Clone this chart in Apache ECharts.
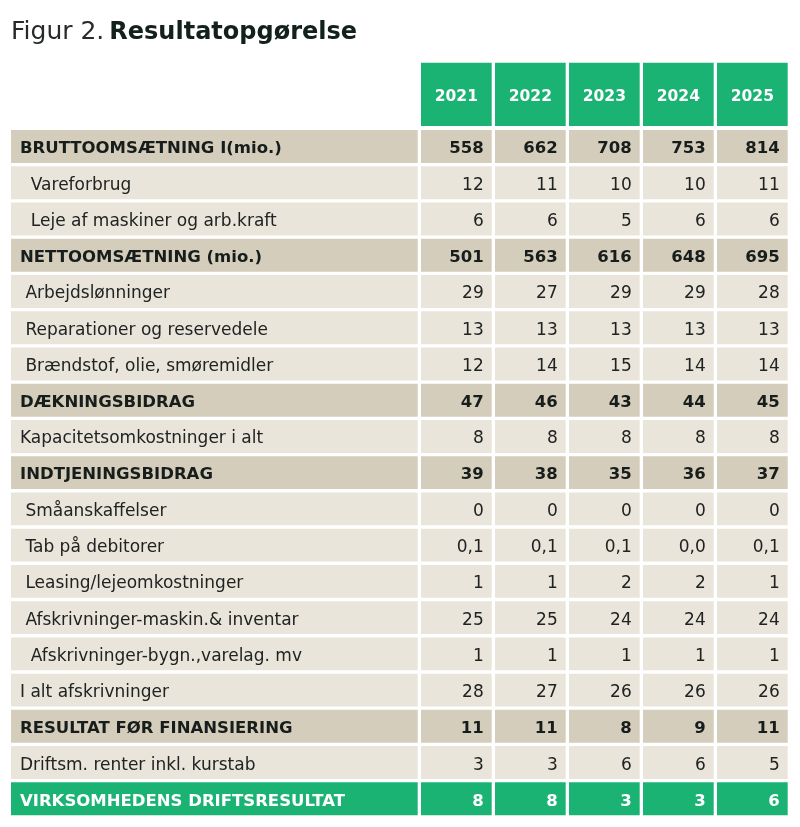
<!DOCTYPE html>
<html>
<head>
<meta charset="utf-8">
<script src="https://cdn.jsdelivr.net/npm/echarts@6/dist/echarts.min.js"></script>
<style>
html, body { margin: 0; padding: 0; background: #fff; }
#main { width: 800px; height: 827px; }
</style>
</head>
<body>
<div id="main"></div>
<script>
// tabellens data
var years = ['2021', '2022', '2023', '2024', '2025'];

var rowLabels = [
    'BRUTTOOMSÆTNING I(mio.)',
    '  Vareforbrug',
    '  Leje af maskiner og arb.kraft',
    'NETTOOMSÆTNING (mio.)',
    ' Arbejdslønninger',
    ' Reparationer og reservedele',
    ' Brændstof, olie, smøremidler',
    'DÆKNINGSBIDRAG',
    'Kapacitetsomkostninger i alt',
    'INDTJENINGSBIDRAG',
    ' Småanskaffelser',
    ' Tab på debitorer',
    ' Leasing/lejeomkostninger',
    ' Afskrivninger-maskin.& inventar',
    '  Afskrivninger-bygn.,varelag. mv',
    'I alt afskrivninger',
    'RESULTAT FØR FINANSIERING',
    'Driftsm. renter inkl. kurstab',
    'VIRKSOMHEDENS DRIFTSRESULTAT'
];

// total = mørk række med fed tekst, item = almindelig, result = grøn slutlinje
var rowKinds = ['total', 'item', 'item', 'total', 'item', 'item', 'item', 'total', 'item', 'total',
    'item', 'item', 'item', 'item', 'item', 'item', 'total', 'item', 'result'];

var v2021 = [558, 12, 6, 501, 29, 13, 12, 47, 8, 39, 0, 0.1, 1, 25, 1, 28, 11, 3, 8];
var v2022 = [662, 11, 6, 563, 27, 13, 14, 46, 8, 38, 0, 0.1, 1, 25, 1, 27, 11, 3, 8];
var v2023 = [708, 10, 5, 616, 29, 13, 15, 43, 8, 35, 0, 0.1, 2, 24, 1, 26, 8, 6, 3];
var v2024 = [753, 10, 6, 648, 29, 13, 14, 44, 8, 36, 0, 0.0, 2, 24, 1, 26, 9, 6, 3];
var v2025 = [814, 11, 6, 695, 28, 13, 14, 45, 8, 37, 0, 0.1, 1, 24, 1, 26, 11, 5, 6];

// rækker der vises med én decimal
var oneDecimalRows = [' Tab på debitorer'];

var valuesByYear = [v2021, v2022, v2023, v2024, v2025];

var FONT = '"DejaVu Sans", sans-serif';
var GAP = 3.3;
var SHIFT = 2.5; // teksten sidder lidt under midten
var GREEN = '#1bb374';
var bg = { total: '#d5cdbc', item: '#e9e5da', result: GREEN };
var fg = { total: '#161d1a', item: '#202322', result: '#ffffff' };
var weight = { total: 'bold', item: 'normal', result: 'bold' };
var size = { total: 16.5, item: 17, result: 16.5 };

function fmt(v, row) {
    if (oneDecimalRows.indexOf(rowLabels[row]) >= 0) {
        return v.toFixed(1).replace('.', ',');
    }
    return String(v).replace('.', ',');
}

var cellData = [];
valuesByYear.forEach(function (arr, i) {
    arr.forEach(function (v, r) {
        cellData.push([i, r, v]);
    });
});

var labelData = rowLabels.map(function (l, r) { return [0, r]; });
var headerData = years.map(function (y, i) { return [i, 0]; });

var myChart = echarts.init(document.getElementById('main'));

var option = {
    animation: false,
    title: {
        left: 6,
        top: 15,
        text: '{a|Figur 2.} {b|Resultatopgørelse}',
        textStyle: {
            rich: {
                a: { fontFamily: FONT, fontSize: 25, fontWeight: 'normal', color: '#262a28' },
                b: { fontFamily: FONT, fontSize: 24, fontWeight: 'bold', color: '#13201b' }
            }
        }
    },
    grid: [
        { left: 11, top: 130, width: 410, height: 688.6 },
        { left: 421, top: 130, width: 370, height: 688.6 },
        { left: 421, top: 62.7, width: 370, height: 67.3 }
    ],
    xAxis: [
        { gridIndex: 0, type: 'category', data: [''], show: false },
        { gridIndex: 1, type: 'category', data: years, show: false },
        { gridIndex: 2, type: 'category', data: years, show: false }
    ],
    yAxis: [
        { gridIndex: 0, type: 'category', data: rowLabels, inverse: true, show: false },
        { gridIndex: 1, type: 'category', data: rowLabels, inverse: true, show: false },
        { gridIndex: 2, type: 'category', data: ['år'], show: false }
    ],
    series: [
        {
            // første kolonne med tekster
            type: 'custom',
            xAxisIndex: 0,
            yAxisIndex: 0,
            data: labelData,
            renderItem: function (params, api) {
                var row = api.value(1);
                var c = api.coord([api.value(0), row]);
                var s = api.size([1, 1]);
                var kind = rowKinds[row];
                var x0 = c[0] - s[0] / 2, y0 = c[1] - s[1] / 2;
                return {
                    type: 'group',
                    children: [
                        { type: 'rect', shape: { x: x0, y: y0, width: s[0] - GAP, height: s[1] - GAP },
                          style: { fill: bg[kind] } },
                        { type: 'text', x: x0 + 9, y: y0 + (s[1] - GAP) / 2 + SHIFT,
                          style: { text: rowLabels[row], align: 'left', verticalAlign: 'middle',
                                   fill: fg[kind], fontFamily: FONT, fontSize: size[kind], fontWeight: weight[kind] } }
                    ]
                };
            }
        },
        {
            // tal for hvert år
            type: 'custom',
            xAxisIndex: 1,
            yAxisIndex: 1,
            data: cellData,
            renderItem: function (params, api) {
                var row = api.value(1);
                var c = api.coord([api.value(0), row]);
                var s = api.size([1, 1]);
                var kind = rowKinds[row];
                var x0 = c[0] - s[0] / 2, y0 = c[1] - s[1] / 2;
                return {
                    type: 'group',
                    children: [
                        { type: 'rect', shape: { x: x0, y: y0, width: s[0] - GAP, height: s[1] - GAP },
                          style: { fill: bg[kind] } },
                        { type: 'text', x: x0 + s[0] - GAP - 8, y: y0 + (s[1] - GAP) / 2 + SHIFT,
                          style: { text: fmt(api.value(2), row), align: 'right', verticalAlign: 'middle',
                                   fill: fg[kind], fontFamily: FONT, fontSize: size[kind], fontWeight: weight[kind] } }
                    ]
                };
            }
        },
        {
            // grønne årstal i toppen
            type: 'custom',
            xAxisIndex: 2,
            yAxisIndex: 2,
            data: headerData,
            renderItem: function (params, api) {
                var c = api.coord([api.value(0), api.value(1)]);
                var s = api.size([1, 1]);
                var x0 = c[0] - s[0] / 2, y0 = c[1] - s[1] / 2;
                return {
                    type: 'group',
                    children: [
                        { type: 'rect', shape: { x: x0, y: y0, width: s[0] - GAP, height: s[1] - 4 },
                          style: { fill: GREEN } },
                        { type: 'text', x: x0 + (s[0] - GAP) / 2, y: y0 + (s[1] - 4) / 2 + 3,
                          style: { text: years[api.value(0)], align: 'center', verticalAlign: 'middle',
                                   fill: '#ffffff', fontFamily: FONT, fontSize: 15.5, fontWeight: 'bold' } }
                    ]
                };
            }
        }
    ]
};

myChart.setOption(option);
</script>
</body>
</html>
